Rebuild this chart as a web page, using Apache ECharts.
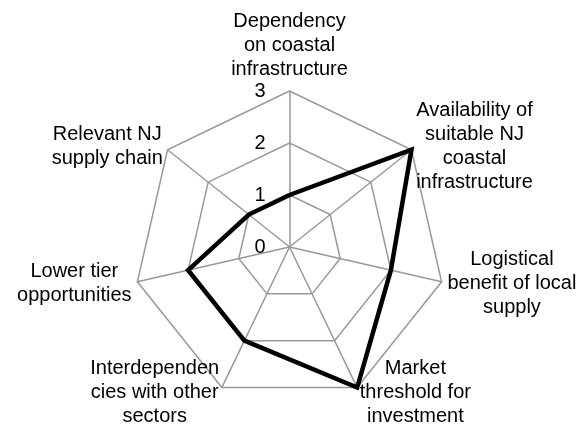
<!DOCTYPE html>
<html><head><meta charset="utf-8">
<script src="https://cdn.jsdelivr.net/npm/echarts@6/dist/echarts.min.js"></script>
<style>html,body{margin:0;padding:0;background:#fff}#c{width:585px;height:425px}</style>
</head><body><div id="c"></div>
<script>
// Categories listed clockwise from the top, as in the reference
const indicatorNames = [
  'Dependency\non coastal\ninfrastructure',
  'Availability of\nsuitable NJ\ncoastal\ninfrastructure',
  'Logistical\nbenefit of local\nsupply',
  'Market\nthreshold for\ninvestment',
  'Interdependen\ncies with other\nsectors',
  'Lower tier\nopportunities',
  'Relevant NJ\nsupply chain'
];
const values = [1, 3, 2, 3, 2, 2, 1];
const axisMin = 0;
const axisMax = 3;
const tickLabels = ['0', '1', '2', '3'];

// ECharts lays radar axes counter-clockwise; reorder so they run clockwise.
const order = indicatorNames.map(function (_, i) { return i === 0 ? 0 : indicatorNames.length - i; });
const ecNames = order.map(function (i) { return indicatorNames[i]; });
const ecValues = order.map(function (i) { return values[i]; });

const FONT = "'Liberation Sans', Arial, sans-serif";
const chart = echarts.init(document.getElementById('c'), null, {renderer: 'canvas'});
chart.setOption({
  backgroundColor: '#fff',
  animation: false,
  radar: {
    center: [289.5, 247],
    radius: 156,
    startAngle: 90,
    splitNumber: 3,
    shape: 'polygon',
    nameGap: 6,
    axisName: {
      color: '#000',
      fontFamily: FONT,
      fontSize: 20,
      lineHeight: 24,
      formatter: function (v) {
        return v.split('\n').map(function (l) { return '{c|' + l + '}'; }).join('\n');
      },
      rich: {c: {align: 'center', color: '#000', fontFamily: FONT, fontSize: 20, lineHeight: 24}}
    },
    splitLine: {lineStyle: {color: '#999', width: 1.5}},
    splitArea: {show: false},
    axisLine: {lineStyle: {color: '#999', width: 1.5}},
    axisTick: {show: false},
    axisLabel: {show: false},
    indicator: ecNames.map(function (n, i) {
      const ind = {name: n, min: axisMin, max: axisMax};
      if (i === 0) {
        ind.axisLabel = {
          show: true, color: '#000', fontFamily: FONT, fontSize: 20, margin: 24,
          formatter: function (val) { return tickLabels[Math.round(val)]; }
        };
      }
      return ind;
    })
  },
  series: [{
    type: 'radar',
    symbol: 'none',
    lineStyle: {color: '#000', width: 4.5, join: 'miter', miterLimit: 10},
    data: [{value: ecValues}]
  }]
});
</script></body></html>
